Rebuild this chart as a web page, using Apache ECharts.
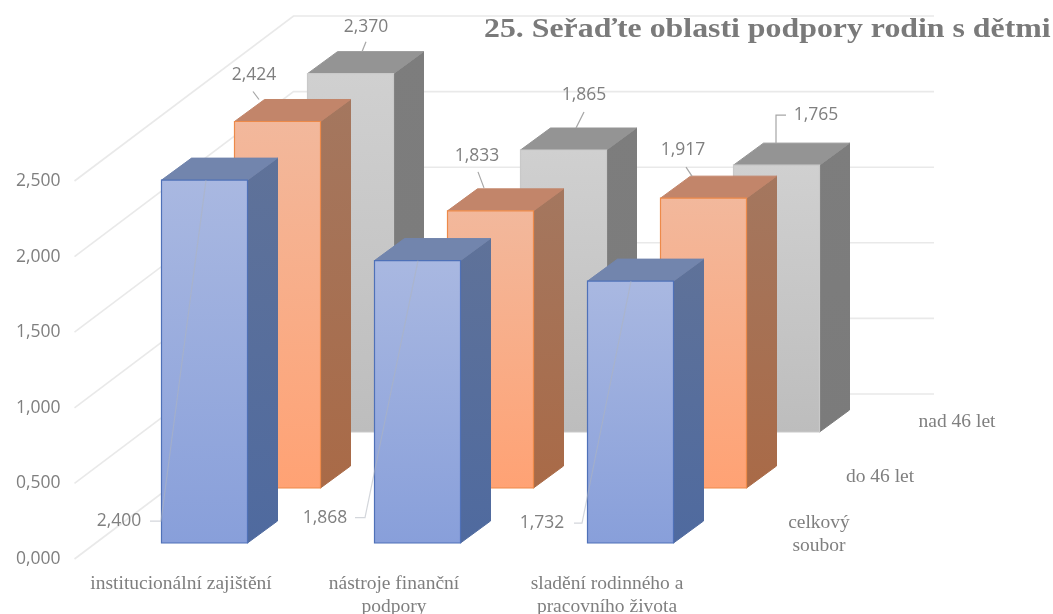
<!DOCTYPE html>
<html><head><meta charset="utf-8">
<style>html,body{margin:0;padding:0;background:#fff}#c{width:1053px;height:614px}</style>
<script src="https://cdn.jsdelivr.net/npm/echarts@6/dist/echarts.min.js"></script>
</head><body><div id="c"></div>
<script>
const categories = ['institucionální zajištění', 'nástroje finanční\npodpory', 'sladění rodinného a\npracovního života'];
const celkovy = [2.400, 1.868, 1.732];
const do46 = [2.424, 1.833, 1.917];
const nad46 = [2.370, 1.865, 1.765];
const yTicks = [0, 0.5, 1, 1.5, 2, 2.5];
const titleText = '25. Seřaďte oblasti podpory rodin s dětmi';
const depthNames = ['celkový\nsoubor', 'do 46 let', 'nad 46 let'];

const fmt = v => v.toFixed(3).replace('.', ',');
const grey = '#7f7f7f';
const sans = '"Open Sans", sans-serif';
const serif = '"Liberation Serif", serif';
const v = (a, b) => ({type: 'linear', x: 0, y: 0, x2: 0, y2: 1, colorStops: [{offset: 0, color: a}, {offset: 1, color: b}]});

const looks = {
  blue: {shift: [23.5, -16], front: v('#a9b8e1', '#889fda'), side: v('#5f7299', '#4f6a9f'), top: '#7285ad', edge: '#4f71b8',
    label: [[-85.5, 341], [-92.5, 257], [-88.5, 242]],
    leader: [[[-54.5, 341], [-43.5, 341], [1.5, 0]], [[-62.5, 257], [-52.5, 257], [0.5, 0]], [[-56.5, 242], [-48.5, 242], [0.5, 0]]],
    leaderColor: 'rgba(175,180,190,0.55)'},
  orange: {shift: [96.5, -71], front: v('#f2b89c', '#ffa274'), side: v('#a4775f', '#a96a47'), top: '#c2856a', edge: '#ed8a4a',
    label: [[-23.5, -46], [-13.5, -55], [-20.5, -48]],
    leader: [[[-24.5, -30], [-18.5, -22]], [[-12.5, -39], [-6.5, -23]], [[-17.5, -31], [-11.5, -22]]],
    leaderColor: '#a6a6a6'},
  gray: {shift: [169.5, -127], front: v('#d0d0d0', '#bdbdbd'), side: v('#7d7d7d', '#7b7b7b'), top: '#949494', edge: '#c9c9c9',
    label: [[15.5, -47], [20.5, -55], [39.5, -50]],
    leader: [[[15.5, -32], [11.5, -22]], [[20.5, -38], [12.5, -22]], [[9.5, -50], [-0.5, -50], [-0.5, -22]]],
    leaderColor: '#a6a6a6'}
};
const DX = 30, DY = -22, BAR = 86 / 213;

function barRender(look) {
  return function (params, api) {
    const i = api.value(0), val = api.value(1);
    const base = api.coord([i, 0]), head = api.coord([i, val]);
    const w = api.size([1, 0])[0] * BAR;
    const cx = base[0] + look.shift[0];
    const x0 = cx - w / 2, x1 = cx + w / 2;
    const yb = base[1] + look.shift[1], yt = head[1] + look.shift[1];
    const poly = (pts, fill, stroke) => ({type: 'polygon', shape: {points: pts}, style: {fill, stroke: stroke || fill, lineWidth: 1}});
    const lp = look.label[i];
    const children = [
      poly([[x1, yb], [x1 + DX, yb + DY], [x1 + DX, yt + DY], [x1, yt]], look.side),
      poly([[x0, yt], [x1, yt], [x1 + DX, yt + DY], [x0 + DX, yt + DY]], look.top),
      {type: 'rect', shape: {x: x0, y: yt, width: w, height: yb - yt}, style: {fill: look.front, stroke: look.edge, lineWidth: 1.2}},
      {type: 'polyline', shape: {points: look.leader[i].map(p => [cx + p[0], yt + p[1]])}, style: {fill: 'none', stroke: look.leaderColor, lineWidth: 1.2}},
      {type: 'text', x: cx + lp[0], y: yt + lp[1], style: {text: fmt(val), fill: grey, font: '17.5px ' + sans, align: 'center', verticalAlign: 'middle'}}
    ];
    return {type: 'group', children};
  };
}
function wallRender(params, api) {
  const p = api.coord([0, api.value(0)]);
  const x0 = params.coordSys.x, y0 = p[1];
  const bx = x0 + 219, by = y0 - 165;
  return {type: 'polyline', shape: {points: [[x0, y0], [bx, by], [934, by]]}, style: {fill: 'none', stroke: '#e9e9e9', lineWidth: 1.6}};
}
const bars = (name, data, look) => ({name, type: 'custom', coordinateSystem: 'cartesian2d', renderItem: barRender(look), encode: {x: 0, y: 1}, data: data.map((d, i) => [i, d]), silent: true});

const chart = echarts.init(document.getElementById('c'), null, {renderer: 'canvas'});
chart.setOption({
  animation: false,
  backgroundColor: '#fff',
  grid: {left: 74.5, top: 181, width: 639, height: 378, containLabel: false, outerBoundsMode: 'none'},
  xAxis: {type: 'category', data: categories, axisLine: {show: false}, axisTick: {show: false}, splitLine: {show: false},
    axisLabel: {interval: 0, margin: 13, fontFamily: serif, fontSize: 19.5, lineHeight: 23, color: grey}},
  yAxis: {type: 'value', min: 0, max: 2.5, interval: 0.5, axisLine: {show: false}, axisTick: {show: false}, splitLine: {show: false},
    axisLabel: {margin: 14, formatter: fmt, fontFamily: sans, fontSize: 17.5, color: grey}},
  graphic: [
    {type: 'text', x: 484, y: 30, scaleX: 1.137, style: {text: titleText, fill: '#7a7a7a', font: 'bold 28px ' + serif, align: 'left', verticalAlign: 'middle'}},
    {type: 'text', x: 819, y: 534, style: {text: depthNames[0], fill: grey, font: '19.5px ' + serif, align: 'center', verticalAlign: 'middle', lineHeight: 23}},
    {type: 'text', x: 880, y: 477, style: {text: depthNames[1], fill: grey, font: '19.5px ' + serif, align: 'center', verticalAlign: 'middle'}},
    {type: 'text', x: 957, y: 422, style: {text: depthNames[2], fill: grey, font: '19.5px ' + serif, align: 'center', verticalAlign: 'middle'}}
  ],
  series: [
    {type: 'custom', coordinateSystem: 'cartesian2d', renderItem: wallRender, encode: {y: 0}, data: yTicks.map(t => [t]), silent: true},
    bars('nad 46 let', nad46, looks.gray),
    bars('do 46 let', do46, looks.orange),
    bars('celkový soubor', celkovy, looks.blue)
  ]
});
</script></body></html>
